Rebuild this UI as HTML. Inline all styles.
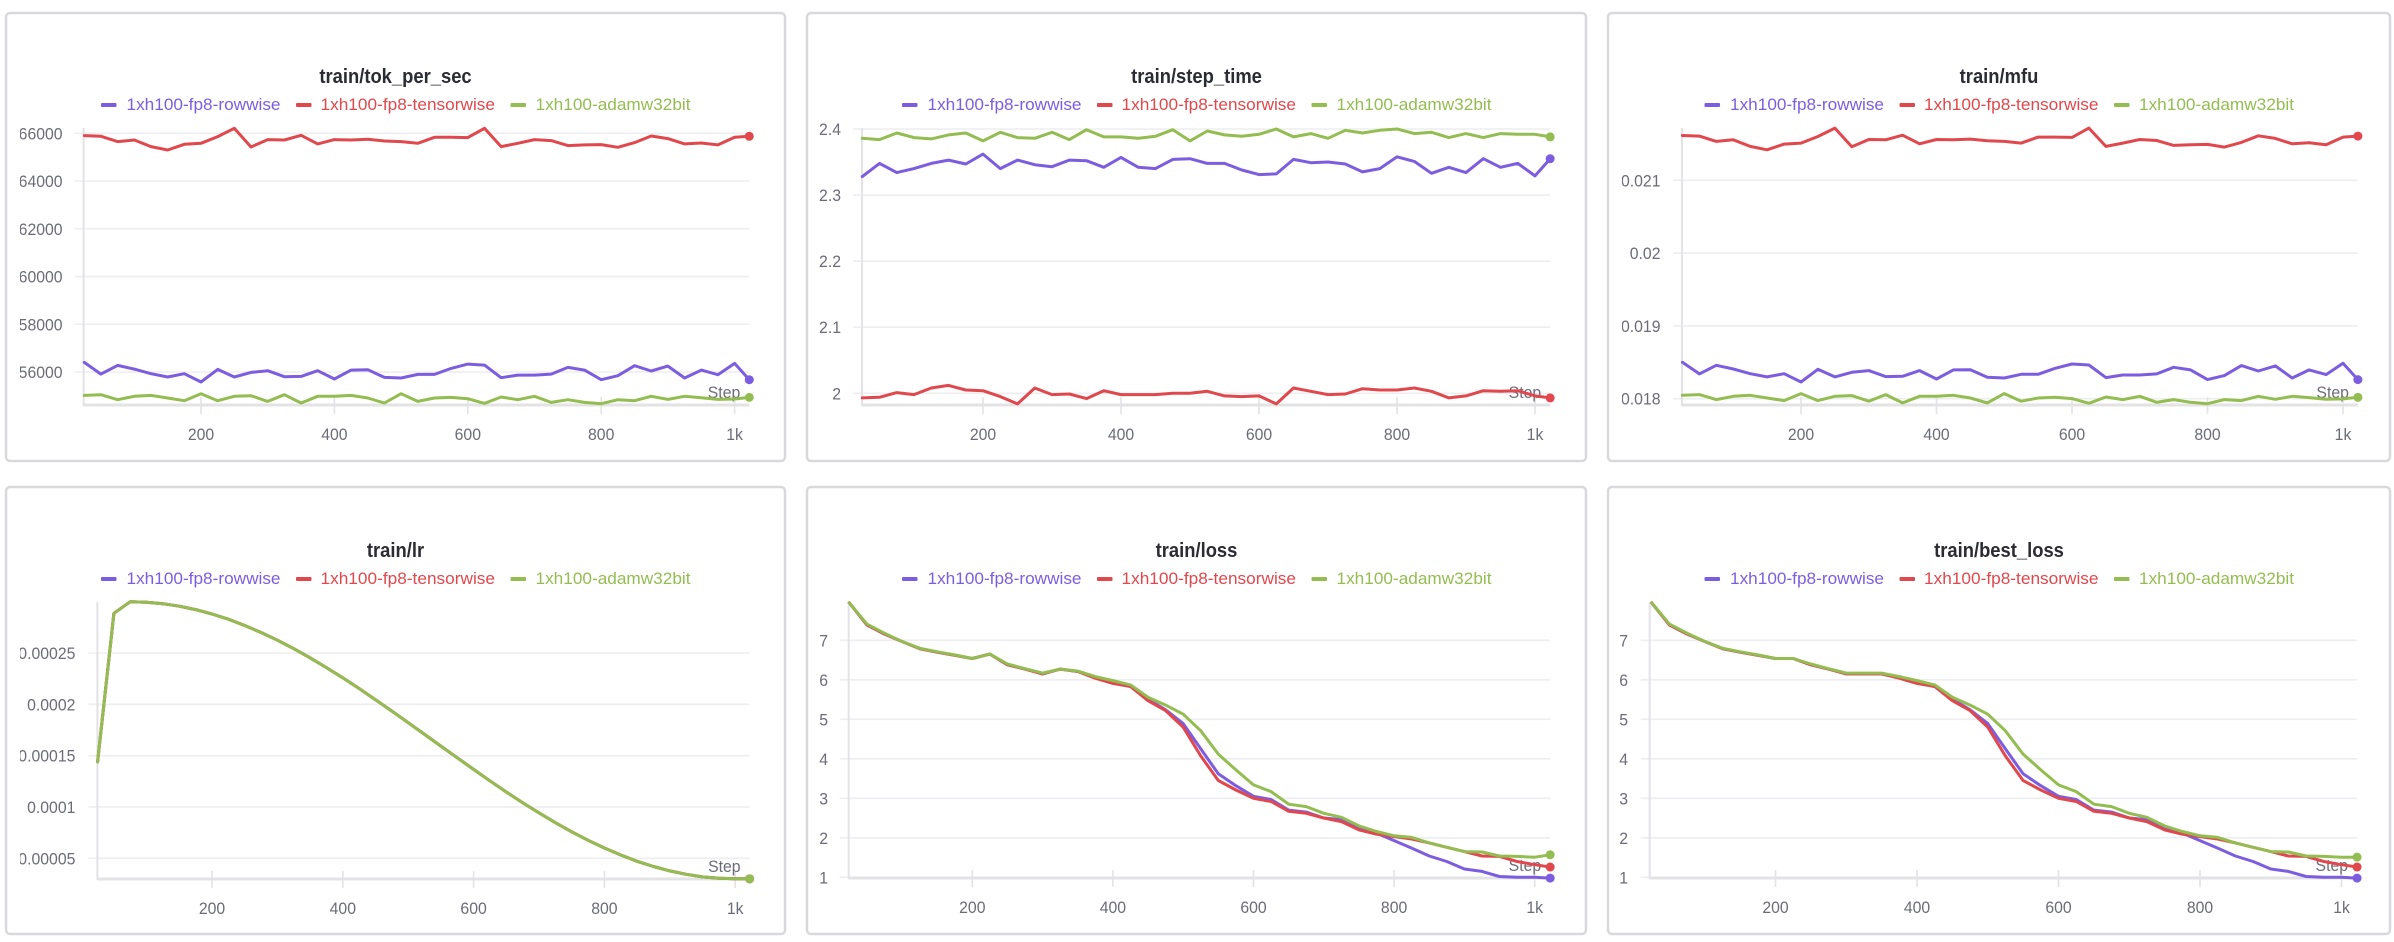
<!DOCTYPE html>
<html><head><meta charset="utf-8"><title>Training metrics</title>
<style>
html,body{margin:0;padding:0;background:#fff;}
svg{display:block;font-family:"Liberation Sans",sans-serif;}
</style></head>
<body>
<svg id="root" xmlns="http://www.w3.org/2000/svg" width="2394" height="942" viewBox="0 0 2394 942"></svg>
<script>
// ---------- data ----------
const steps = [25,50,75,100,125,150,175,200,225,250,275,300,325,350,375,400,425,450,475,500,525,550,575,600,625,650,675,700,725,750,775,800,825,850,875,900,925,950,975,1000,1022];
const seriesNames = ['1xh100-fp8-rowwise','1xh100-fp8-tensorwise','1xh100-adamw32bit'];
const xTicks = [200,400,600,800,1000];
const xTickLabels = ['200','400','600','800','1k'];

const tokRow = [56402,55914,56277,56123,55928,55789,55928,55579,56109,55789,55984,56054,55803,55817,56054,55705,56081,56095,55775,55747,55900,55900,56151,56333,56291,55761,55872,55872,55914,56193,56081,55677,55844,56263,56040,56249,55747,56081,55886,56361,55677];
const tokTensor = [65902,65874,65651,65721,65442,65302,65540,65581,65860,66209,65428,65735,65721,65916,65554,65735,65721,65749,65679,65651,65581,65833,65833,65819,66209,65442,65581,65735,65693,65484,65512,65526,65414,65609,65888,65777,65554,65595,65512,65833,65874];
const tokAdam = [55021,55049,54840,54980,55021,54910,54798,55091,54798,54980,55007,54770,55049,54700,54980,54980,55021,54910,54700,55091,54770,54910,54937,54882,54686,54952,54840,54980,54728,54840,54728,54672,54840,54798,54980,54854,54980,54924,54854,54868,54937];
const tokTicks = [66000,64000,62000,60000,58000,56000];
const tokTickLabels = ['66000','64000','62000','60000','58000','56000'];

const stepRow = [2.328,2.348,2.334,2.340,2.348,2.353,2.347,2.362,2.340,2.353,2.346,2.343,2.353,2.352,2.342,2.357,2.342,2.340,2.354,2.355,2.348,2.348,2.338,2.331,2.332,2.354,2.349,2.350,2.347,2.335,2.340,2.358,2.351,2.333,2.342,2.334,2.355,2.342,2.348,2.329,2.355];
const stepTensor = [1.993,1.994,2.001,1.998,2.008,2.012,2.005,2.004,1.995,1.984,2.008,1.998,1.999,1.992,2.004,1.998,1.998,1.998,2.000,2.000,2.003,1.996,1.995,1.996,1.984,2.008,2.003,1.998,1.999,2.007,2.005,2.005,2.008,2.003,1.993,1.996,2.004,2.003,2.004,1.996,1.993];
const stepAdam = [2.386,2.384,2.394,2.387,2.385,2.391,2.394,2.382,2.395,2.387,2.386,2.395,2.384,2.399,2.388,2.388,2.386,2.389,2.399,2.382,2.397,2.391,2.389,2.392,2.400,2.388,2.393,2.386,2.398,2.394,2.398,2.400,2.393,2.395,2.387,2.393,2.387,2.393,2.392,2.392,2.388];
const stepTicks = [2.4,2.3,2.2,2.1,2.0];
const stepTickLabels = ['2.4','2.3','2.2','2.1','2'];

const mfuRow = [0.018500,0.018340,0.018459,0.018408,0.018344,0.018299,0.018344,0.018230,0.018404,0.018299,0.018363,0.018386,0.018303,0.018308,0.018386,0.018271,0.018395,0.018399,0.018294,0.018285,0.018335,0.018335,0.018418,0.018477,0.018463,0.018290,0.018326,0.018326,0.018340,0.018431,0.018395,0.018262,0.018317,0.018454,0.018381,0.018450,0.018285,0.018395,0.018331,0.018486,0.018262];
const mfuTensor = [0.021616,0.021607,0.021534,0.021556,0.021465,0.021419,0.021497,0.021511,0.021602,0.021717,0.021460,0.021561,0.021556,0.021620,0.021502,0.021561,0.021556,0.021566,0.021543,0.021534,0.021511,0.021593,0.021593,0.021589,0.021717,0.021465,0.021511,0.021561,0.021547,0.021479,0.021488,0.021493,0.021456,0.021520,0.021611,0.021575,0.021502,0.021515,0.021488,0.021593,0.021607];
const mfuAdam = [0.018047,0.018056,0.017988,0.018033,0.018047,0.018010,0.017974,0.018070,0.017974,0.018033,0.018042,0.017965,0.018056,0.017942,0.018033,0.018033,0.018047,0.018010,0.017942,0.018070,0.017965,0.018010,0.018019,0.018001,0.017937,0.018024,0.017988,0.018033,0.017951,0.017988,0.017951,0.017932,0.017988,0.017974,0.018033,0.017992,0.018033,0.018015,0.017992,0.017997,0.018019];
const mfuTicks = [0.021,0.020,0.019,0.018];
const mfuTickLabels = ['0.021','0.02','0.019','0.018'];

const lrRow = [0.000144,0.0002887,0.0003,0.0002995,0.000298,0.0002956,0.0002923,0.000288,0.0002829,0.0002768,0.00027,0.0002625,0.0002542,0.0002453,0.0002358,0.0002258,0.0002154,0.0002045,0.0001934,0.0001821,0.0001707,0.0001593,0.0001479,0.0001366,0.0001255,0.0001146,0.0001042,0.0000942,0.0000847,0.0000758,0.0000675,0.00006,0.0000532,0.0000471,0.000042,0.0000377,0.0000344,0.0000319,0.0000305,0.00003,0.00003];
const lrTensor = [0.000144,0.0002887,0.0003,0.0002995,0.000298,0.0002956,0.0002923,0.000288,0.0002829,0.0002768,0.00027,0.0002625,0.0002542,0.0002453,0.0002358,0.0002258,0.0002154,0.0002045,0.0001934,0.0001821,0.0001707,0.0001593,0.0001479,0.0001366,0.0001255,0.0001146,0.0001042,0.0000942,0.0000847,0.0000758,0.0000675,0.00006,0.0000532,0.0000471,0.000042,0.0000377,0.0000344,0.0000319,0.0000305,0.00003,0.00003];
const lrAdam = [0.000144,0.0002887,0.0003,0.0002995,0.000298,0.0002956,0.0002923,0.000288,0.0002829,0.0002768,0.00027,0.0002625,0.0002542,0.0002453,0.0002358,0.0002258,0.0002154,0.0002045,0.0001934,0.0001821,0.0001707,0.0001593,0.0001479,0.0001366,0.0001255,0.0001146,0.0001042,0.0000942,0.0000847,0.0000758,0.0000675,0.00006,0.0000532,0.0000471,0.000042,0.0000377,0.0000344,0.0000319,0.0000305,0.00003,0.00003];
const lrTicks = [0.00025,0.0002,0.00015,0.0001,0.00005];
const lrTickLabels = ['0.00025','0.0002','0.00015','0.0001','0.00005'];

const lossRow = [7.95,7.39,7.16,6.97,6.79,6.70,6.62,6.54,6.65,6.38,6.27,6.15,6.27,6.21,6.06,5.95,5.83,5.51,5.24,4.89,4.25,3.62,3.32,3.05,2.97,2.70,2.65,2.50,2.46,2.22,2.12,1.93,1.74,1.54,1.40,1.21,1.15,1.02,1.00,1.00,0.98];
const lossTensor = [7.95,7.39,7.16,6.97,6.79,6.70,6.62,6.54,6.65,6.38,6.27,6.15,6.27,6.21,6.04,5.91,5.83,5.47,5.22,4.80,4.07,3.45,3.21,3.00,2.92,2.67,2.62,2.50,2.41,2.20,2.09,2.03,1.97,1.87,1.76,1.65,1.54,1.53,1.40,1.32,1.26];
const lossAdam = [7.95,7.41,7.18,6.97,6.80,6.71,6.63,6.54,6.65,6.40,6.28,6.17,6.27,6.22,6.08,5.98,5.87,5.56,5.36,5.13,4.71,4.12,3.72,3.34,3.17,2.85,2.79,2.62,2.52,2.30,2.16,2.05,2.01,1.87,1.76,1.65,1.64,1.54,1.53,1.51,1.57];
const bestRow = [7.95,7.39,7.16,6.97,6.79,6.70,6.62,6.54,6.54,6.38,6.27,6.15,6.15,6.15,6.06,5.95,5.83,5.51,5.24,4.89,4.25,3.62,3.32,3.05,2.97,2.70,2.65,2.50,2.46,2.22,2.12,1.93,1.74,1.54,1.40,1.21,1.15,1.02,1.00,1.00,0.98];
const bestTensor = [7.95,7.39,7.16,6.97,6.79,6.70,6.62,6.54,6.54,6.38,6.27,6.15,6.15,6.15,6.04,5.91,5.83,5.47,5.22,4.80,4.07,3.45,3.21,3.00,2.92,2.67,2.62,2.50,2.41,2.20,2.09,2.03,1.97,1.87,1.76,1.65,1.54,1.53,1.40,1.32,1.26];
const bestAdam = [7.95,7.41,7.18,6.97,6.80,6.71,6.63,6.54,6.54,6.40,6.28,6.17,6.17,6.17,6.08,5.98,5.87,5.56,5.36,5.13,4.71,4.12,3.72,3.34,3.17,2.85,2.79,2.62,2.52,2.30,2.16,2.05,2.01,1.87,1.76,1.65,1.64,1.54,1.53,1.51,1.51];
const lossTicks = [7,6,5,4,3,2,1];
const lossTickLabels = ['7','6','5','4','3','2','1'];

// ---------- layout ----------
const COLORS = ['#7d5ddf','#e0484d','#93bd50'];
const charts = [
 {name:'tok-per-sec', title:'train/tok_per_sec', px:6, py:13, pw:779, ph:448, co:14, x0:67.6, kx:0.667, ya:[66000,133.3,56000,372], base:405, axisX:83.6, labR:62.6, series:[tokRow,tokTensor,tokAdam], ticks:tokTicks, labels:tokTickLabels},
 {name:'step-time', title:'train/step_time', px:807, py:13, pw:779, ph:448, co:10, x0:845, kx:0.69, ya:[2.4,129,2.0,393.3], base:405, axisX:862, labR:841, series:[stepRow,stepTensor,stepAdam], ticks:stepTicks, labels:stepTickLabels},
 {name:'mfu', title:'train/mfu', px:1608, py:13, pw:782, ph:448, co:14, x0:1665.5, kx:0.6775, ya:[0.021,180.3,0.018,398.7], base:405, axisX:1682, labR:1660.5, series:[mfuRow,mfuTensor,mfuAdam], ticks:mfuTicks, labels:mfuTickLabels},
 {name:'lr', title:'train/lr', px:6, py:487, pw:779, ph:447, co:14, x0:81.2, kx:0.654, ya:[0.00025,653,0.00005,858.3], base:879, axisX:97.4, labR:75.4, series:[lrRow,lrTensor,lrAdam], ticks:lrTicks, labels:lrTickLabels},
 {name:'loss', title:'train/loss', px:807, py:487, pw:779, ph:447, co:10, x0:831.7, kx:0.703, ya:[7,640.3,1,877.3], base:878, axisX:848.7, labR:828, series:[lossRow,lossTensor,lossAdam], ticks:lossTicks, labels:lossTickLabels},
 {name:'best-loss', title:'train/best_loss', px:1608, py:487, pw:782, ph:447, co:10, x0:1634, kx:0.7075, ya:[7,640.3,1,877.3], base:878, axisX:1649.7, labR:1628, series:[bestRow,bestTensor,bestAdam], ticks:lossTicks, labels:lossTickLabels}
];
const NS = 'http://www.w3.org/2000/svg';
const root = document.getElementById('root');
function mk(tag, attrs, parent){
  const e = document.createElementNS(NS, tag);
  for (const k in attrs) e.setAttribute(k, attrs[k]);
  if (parent) parent.appendChild(e);
  return e;
}
const defs = mk('defs', {}, root);

charts.forEach((c, ci) => {
  const xs = s => c.x0 + s * c.kx;
  const ys = v => c.ya[1] + (v - c.ya[0]) * (c.ya[3] - c.ya[1]) / (c.ya[2] - c.ya[0]);
  const g = mk('g', {}, root);
  
  

  const frame = mk('rect', {x:c.px, y:c.py, width:c.pw, height:c.ph, rx:4, fill:'#fff', stroke:'#d9d9dd', 'stroke-width':2.5}, g);
  
  

  const clip = mk('clipPath', {id:'clip'+ci}, defs);
  mk('rect', {x:c.px + c.co, y:c.py, width:c.pw - c.co - 2, height:c.ph}, clip);

  const cx = c.px + c.pw / 2;
  const title = mk('text', {x:0, y:0, 'font-size':20, 'font-weight':'bold', fill:'#2b2b33', 'text-anchor':'middle', transform:`translate(${cx},${c.py+70}) scale(0.92,1)`}, g);
  title.textContent = c.title;
  
  

  // legend
  const legOff = [[-294.5,-269,154],[-99.5,-75,174.5],[115,140,155]];
  seriesNames.forEach((n, i) => {
    const lg = mk('g', {}, g);
    
    
    mk('rect', {x:cx + legOff[i][0], y:c.py + 90, width:15.5, height:4, rx:1, fill:COLORS[i]}, lg);
    const t = mk('text', {x:cx + legOff[i][1], y:c.py + 97, 'font-size':17, fill:COLORS[i], textLength:legOff[i][2], lengthAdjust:'spacingAndGlyphs'}, lg);
    t.textContent = n;
  });

  const lastX = xs(steps[steps.length - 1]);
  const top = c.py + 115;
  // grid + y labels
  const yl = mk('g', {'clip-path':`url(#clip${ci})`}, g);
  
  
  c.ticks.forEach((v, i) => {
    const y = ys(v);
    const gl = mk('line', {x1:c.axisX - 9, x2:lastX, y1:y, y2:y, stroke:'#eeeef0', 'stroke-width':1.6}, yl);
    
    
    const t = mk('text', {x:0, y:0, 'font-size':17, fill:'#6c6c78', 'text-anchor':'end', transform:`translate(${c.labR},${y+6}) scale(0.93,1)`}, yl);
    t.textContent = c.labels[i];
    
    
  });
  // axes
  const ax = mk('line', {x1:c.axisX, x2:c.axisX, y1:top, y2:c.base + 1, stroke:'#e3e3e6', 'stroke-width':2}, g);
  
  
  const bx = mk('line', {x1:c.axisX, x2:lastX, y1:c.base, y2:c.base, stroke:'#e3e3e6', 'stroke-width':3}, g);
  
  
  xTicks.forEach((s, i) => {
    const x = xs(s);
    const tk = mk('line', {x1:x, x2:x, y1:c.base - 8, y2:c.base + 9, stroke:'#e3e3e6', 'stroke-width':1.6}, g);
    
    
    const t = mk('text', {x:0, y:0, 'font-size':17, fill:'#6c6c78', 'text-anchor':'middle', transform:`translate(${x},${c.base+35}) scale(0.93,1)`}, g);
    t.textContent = xTickLabels[i];
    
    
  });
  const st = mk('text', {x:0, y:0, 'font-size':17, fill:'#6c6c78', 'text-anchor':'end', transform:`translate(${lastX-9},${c.base-7}) scale(0.93,1)`}, g);
  st.textContent = 'Step';
  
  

  // series
  c.series.forEach((arr, i) => {
    const pts = arr.map((v, k) => xs(steps[k]).toFixed(1) + ',' + ys(v).toFixed(1)).join(' ');
    const pl = mk('polyline', {points:pts, fill:'none', stroke:COLORS[i], 'stroke-width':3, 'stroke-linejoin':'round', 'stroke-linecap':'round'}, g);
    
    
    const dot = mk('circle', {cx:lastX, cy:ys(arr[arr.length-1]), r:4.5, fill:COLORS[i]}, g);
    
    
  });
});
</script>
</body></html>
